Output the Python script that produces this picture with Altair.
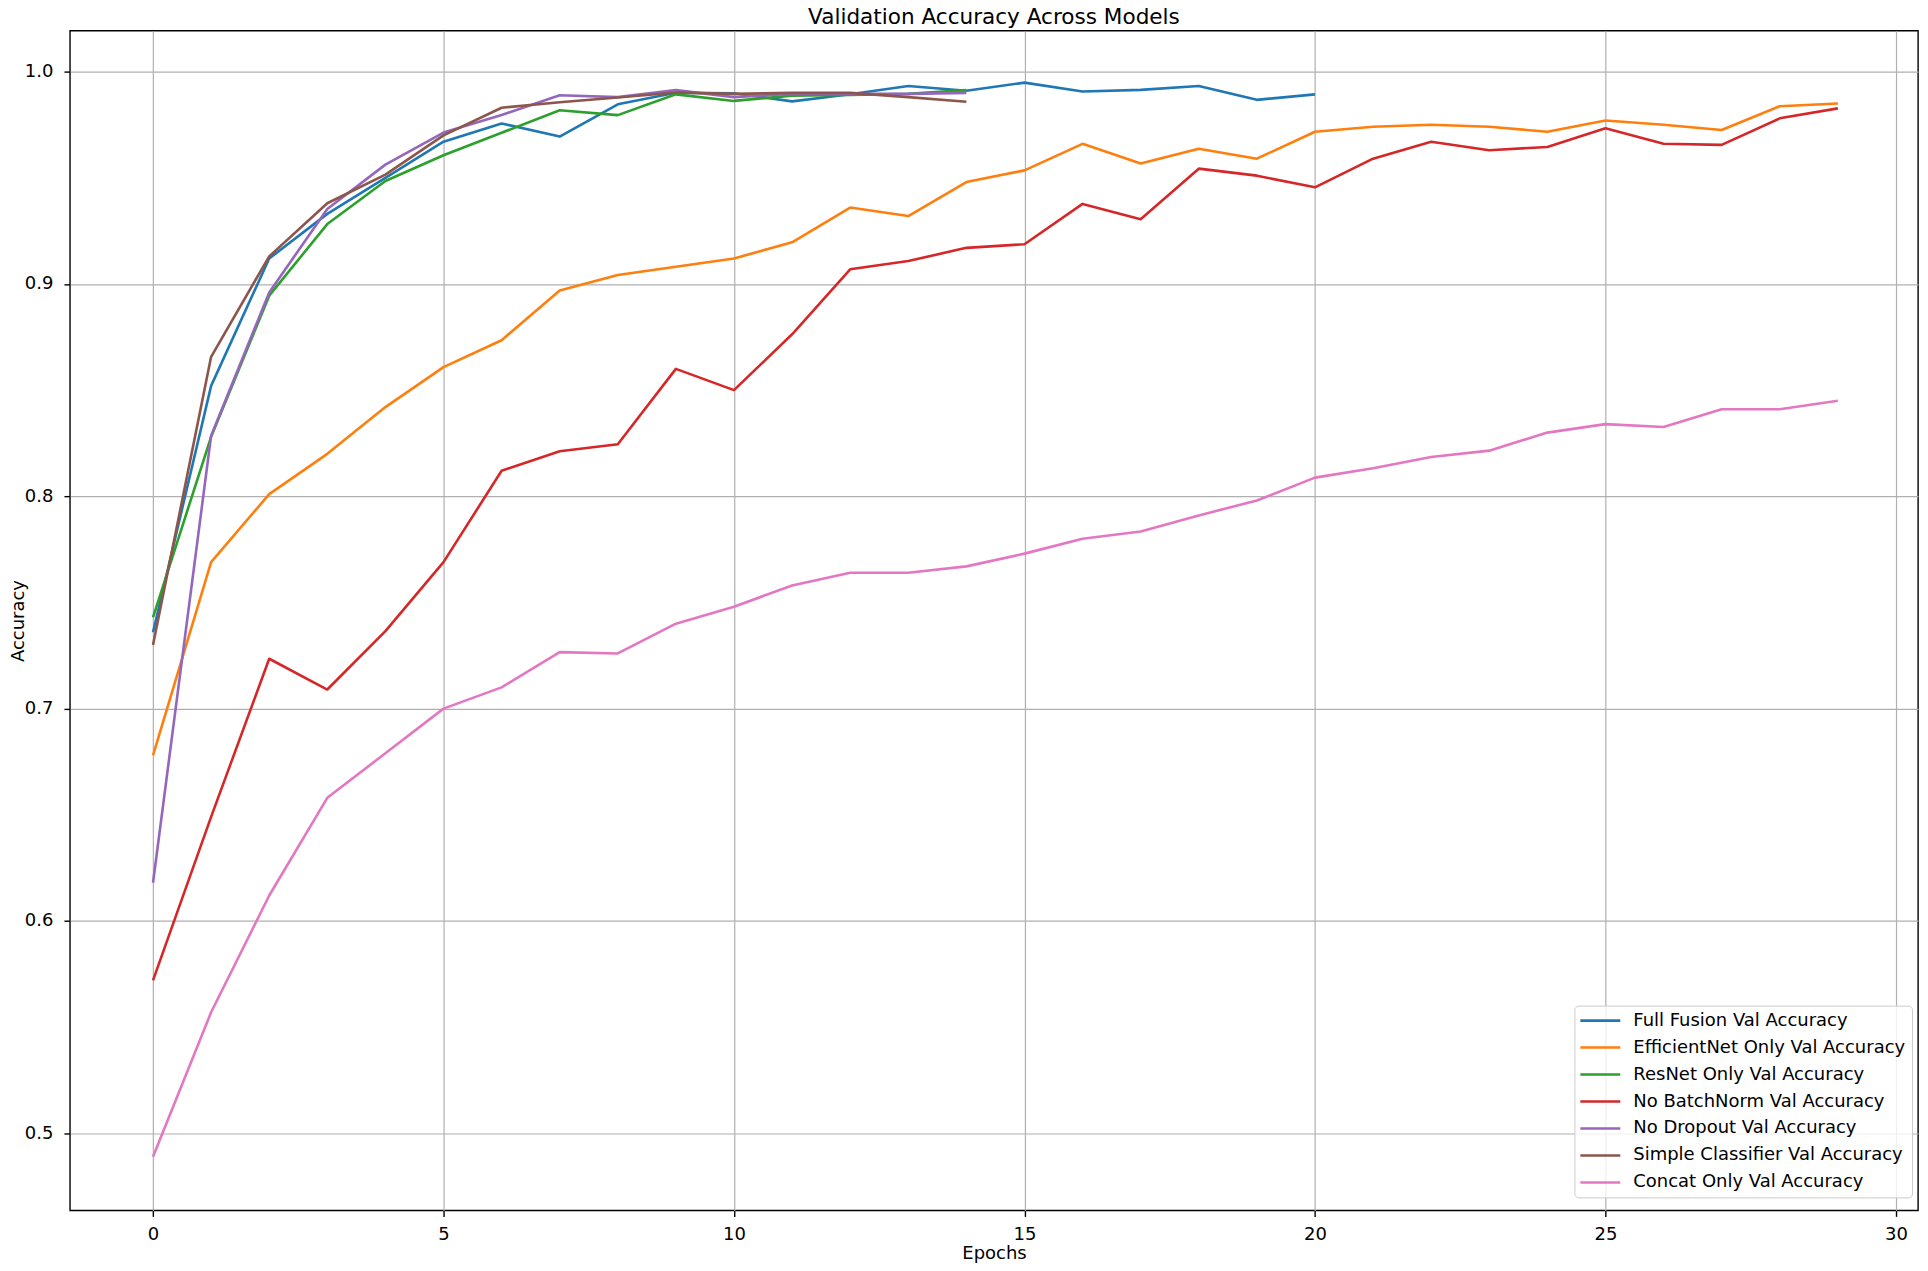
import altair as alt
import pandas as pd

# ---- data ----
model_names = [
    "Full Fusion Val Accuracy",
    "EfficientNet Only Val Accuracy",
    "ResNet Only Val Accuracy",
    "No BatchNorm Val Accuracy",
    "No Dropout Val Accuracy",
    "Simple Classifier Val Accuracy",
    "Concat Only Val Accuracy",
]
model_colors = ["#1f77b4", "#ff7f0e", "#2ca02c", "#d62728", "#9467bd", "#8c564b", "#e377c2"]

full_fusion = [0.736, 0.852, 0.912, 0.933, 0.950, 0.967, 0.9756, 0.9694, 0.9846, 0.990,
               0.9898, 0.986, 0.9893, 0.9932, 0.991, 0.9948, 0.9906, 0.9914, 0.9932, 0.9867,
               0.9893]
efficientnet_only = [0.678, 0.769, 0.801, 0.820, 0.842, 0.8608, 0.8735, 0.8969, 0.9042, 0.9081,
                     0.912, 0.9196, 0.936, 0.932, 0.948, 0.9535, 0.966, 0.9567, 0.9637, 0.959,
                     0.9717, 0.974, 0.975, 0.974, 0.9717, 0.977, 0.975, 0.9725, 0.9837, 0.985]
resnet_only = [0.743, 0.828, 0.8945, 0.9282, 0.9485, 0.9606, 0.9712, 0.9818, 0.9795, 0.9893,
               0.9862, 0.9887, 0.989, 0.9895, 0.9913]
no_batchnorm = [0.572, 0.649, 0.7235, 0.709, 0.7365, 0.769, 0.812, 0.8212, 0.8245, 0.860,
                0.850, 0.8763, 0.9069, 0.9108, 0.917, 0.9187, 0.9377, 0.9305, 0.9543, 0.951,
                0.9455, 0.959, 0.967, 0.963, 0.9645, 0.9733, 0.966, 0.9655, 0.978, 0.9827]
no_dropout = [0.618, 0.8285, 0.896, 0.9353, 0.9562, 0.9713, 0.9796, 0.9889, 0.988, 0.9913,
              0.988, 0.9895, 0.9895, 0.9895, 0.990]
simple_classifier = [0.730, 0.8657, 0.913, 0.938, 0.9515, 0.970, 0.983, 0.9856, 0.9878, 0.9902,
                     0.9895, 0.990, 0.990, 0.988, 0.9858]
concat_only = [0.489, 0.557, 0.612, 0.658, 0.679, 0.700, 0.710, 0.7266, 0.726, 0.740,
               0.748, 0.758, 0.764, 0.764, 0.767, 0.773, 0.780, 0.7834, 0.791, 0.798,
               0.8088, 0.8132, 0.8185, 0.8215, 0.830, 0.834, 0.8326, 0.841, 0.841, 0.845]

x_ticks = [0, 5, 10, 15, 20, 25, 30]
y_ticks = [0.5, 0.6, 0.7, 0.8, 0.9, 1.0]

series = [full_fusion, efficientnet_only, resnet_only, no_batchnorm,
          no_dropout, simple_classifier, concat_only]

rows = []
for name, vals in zip(model_names, series):
    for epoch, acc in enumerate(vals):
        rows.append({"epoch": epoch, "accuracy": acc, "model": name})
df = pd.DataFrame(rows)

FONT = "DejaVu Sans"

x_enc = alt.X(
    "epoch:Q",
    scale=alt.Scale(domain=[-1.43, 30.38], nice=False, zero=False),
    axis=alt.Axis(values=x_ticks, format="d", title="Epochs",
                  labelPadding=9, titleBaseline="alphabetic", titleY=48),
)
y_enc = alt.Y(
    "accuracy:Q",
    scale=alt.Scale(domain=[0.4637, 1.0193], nice=False, zero=False),
    axis=alt.Axis(values=y_ticks, format=".1f", title="Accuracy",
                  labelPadding=11, titleBaseline="alphabetic", titleX=-46),
)
color_enc = alt.Color(
    "model:N",
    scale=alt.Scale(domain=model_names, range=model_colors),
    sort=model_names,
    title=None,
)

base = alt.Chart(df).mark_line(strokeWidth=2.6, strokeJoin="round").encode(
    x=x_enc, y=y_enc, color=color_enc
)

layers = [base.transform_filter(alt.datum.model == name) for name in model_names]

chart = alt.layer(*layers).properties(
    width=1850,
    height=1181,
    autosize=alt.AutoSizeParams(type="none"),
    padding={"left": 62, "top": 22, "right": 2, "bottom": 52},
    title=alt.TitleParams(
        text="Validation Accuracy Across Models",
        font=FONT, fontSize=21.6, fontWeight="normal", color="black",
        anchor="middle", frame="group", offset=6, dy=4,
    ),
).configure_view(
    stroke="black", strokeWidth=1.4
).configure_axis(
    domain=False,
    grid=True,
    gridColor="#b0b0b0",
    gridWidth=1.2,
    tickColor="black",
    tickWidth=1.4,
    tickSize=6,
    labelFont=FONT,
    labelFontSize=18,
    labelColor="black",
    titleFont=FONT,
    titleFontSize=18,
    titleFontWeight="normal",
    titleColor="black",
).configure_legend(
    orient="none",
    legendX=1506,
    legendY=976,
    padding=6,
    strokeColor="#cccccc",
    fillColor="rgba(255,255,255,0.8)",
    cornerRadius=4,
    symbolType="M-5,0H5",
    symbolSize=64,
    symbolStrokeWidth=2.6,
    symbolOffset=11,
    labelOffset=24,
    labelFont=FONT,
    labelFontSize=18,
    labelColor="black",
    labelLimit=400,
    rowPadding=9,
)

chart.save("out.html", embed_options={"renderer": "svg", "actions": False})
